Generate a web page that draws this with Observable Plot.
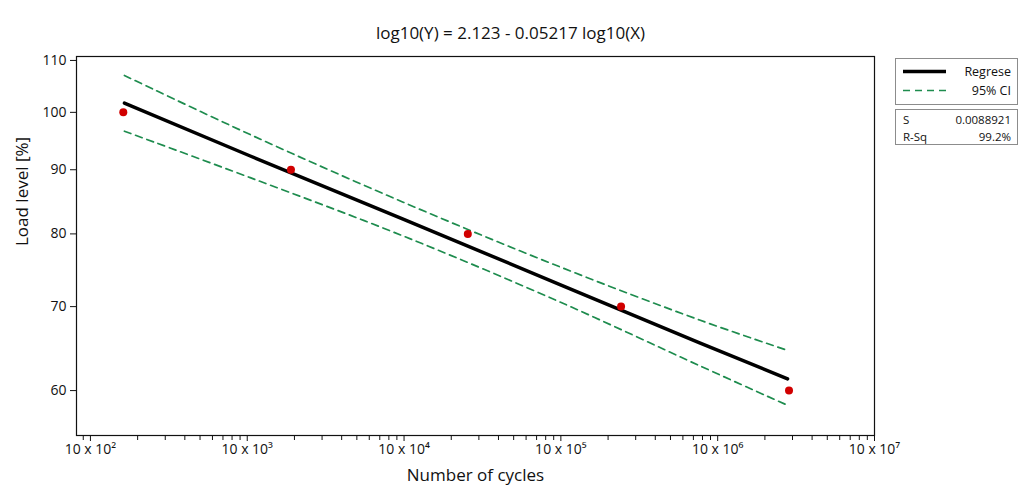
<!DOCTYPE html>
<html>
<head>
<meta charset="utf-8">
<script src="https://cdn.jsdelivr.net/npm/d3@7"></script>
<script src="https://cdn.jsdelivr.net/npm/@observablehq/plot@0.6"></script>
<style>
  html, body { margin: 0; padding: 0; background: #fff; }
  #wrap { position: relative; width: 1024px; height: 489px; font-family: "Open Sans", "Noto Sans", sans-serif; }
  .box { position: absolute; border: 1px solid #8c8c8c; background: #fff; box-sizing: border-box; color: #111; }
  .row { position: absolute; left: 0; right: 0; height: 15px; line-height: 15px; overflow: visible; }
  .row span { display: inline-block; height: 15px; line-height: 15px; }
  .row .l { position: absolute; left: 7px; }
  .row .r { position: absolute; right: 6px; }
  .row svg { position: absolute; left: 7px; top: 0; }
</style>
</head>
<body>
<div id="wrap"></div>
<script>
// Fitted regression line
const fitX = [164.7, 1045, 9860, 98600, 767000, 2790000];
const fitY = [101.7, 92.3, 82.2, 72.9, 65.5, 61.3];
// 95% confidence interval bounds
const upperY = [107.0, 96.0, 84.8, 75.3, 68.3, 64.6];
const lowerY = [96.6, 88.7, 79.7, 70.6, 62.8, 58.4];
// Observations
const obsX = [162, 1900, 25500, 242000, 2850000];
const obsY = [100, 90, 80, 70, 60];
// Axis ticks
const xMajor = [1e2, 1e3, 1e4, 1e5, 1e6, 1e7];
const xMajorLabels = ["10 x 10²", "10 x 10³", "10 x 10⁴", "10 x 10⁵", "10 x 10⁶", "10 x 10⁷"];
const yTicks = [60, 70, 80, 90, 100, 110];
const titleText = "log10(Y) = 2.123 - 0.05217 log10(X)";
const legendItems = ["Regrese", "95% CI"];
const statNames = ["S", "R-Sq"];
const statValues = ["0.0088921", "99.2%"];

const xDomain = [81.5, 1e7];
const yDomain = [55.25, 110.8];

const fit = fitX.map((x, i) => ({x, y: fitY[i]}));
const upper = fitX.map((x, i) => ({x, y: upperY[i]}));
const lower = fitX.map((x, i) => ({x, y: lowerY[i]}));
const obs = obsX.map((x, i) => ({x, y: obsY[i]}));

const xMinor = d3.scaleLog().domain(xDomain).ticks().filter(t => !xMajor.includes(t));

const green = "#1e8c4e";

const chart = Plot.plot({
  width: 1024,
  height: 489,
  marginLeft: 76,
  marginRight: 150,
  marginTop: 56,
  marginBottom: 54,
  style: {fontFamily: '"Open Sans", "Noto Sans", sans-serif', background: "#fff", color: "#111"},
  x: {type: "log", domain: xDomain},
  y: {type: "log", domain: yDomain},
  marks: [
    Plot.frame({stroke: "#111", strokeWidth: 1.2}),
    Plot.axisX(xMinor, {tickSize: 5, tickFormat: () => "", strokeWidth: 1, label: null}),
    Plot.axisX(xMajor, {tickSize: 6, tickPadding: 3, fontSize: 14, tickFormat: (d) => xMajorLabels[xMajor.indexOf(d)], label: null}),
    Plot.axisY(yTicks, {tickSize: 6, tickPadding: 4, fontSize: 14, tickFormat: d => String(d), label: null}),
    Plot.line(upper, {x: "x", y: "y", stroke: green, strokeWidth: 1.7, strokeDasharray: "7,5", curve: "catmull-rom"}),
    Plot.line(lower, {x: "x", y: "y", stroke: green, strokeWidth: 1.7, strokeDasharray: "7,5", curve: "catmull-rom"}),
    Plot.line(fit, {x: "x", y: "y", stroke: "#000", strokeWidth: 3.5}),
    Plot.dot(obs, {x: "x", y: "y", r: 4, fill: "#d10000", stroke: "none"}),
    Plot.text([titleText], {frameAnchor: "top", dx: 35, dy: -30, fontSize: 17, fill: "#111"}),
    Plot.text(["Number of cycles"], {frameAnchor: "bottom", dy: 45, fontSize: 17, fill: "#111"}),
    Plot.text(["Load level [%]"], {frameAnchor: "left", dx: -54, rotate: -90, fontSize: 17, fill: "#111"})
  ]
});

const wrap = document.getElementById("wrap");
wrap.appendChild(chart);

// Legend boxes
const box1 = document.createElement("div");
box1.className = "box";
Object.assign(box1.style, {left: "895px", top: "58px", width: "123px", height: "47px", fontSize: "12.5px"});
const rowsY = [5, 24];
legendItems.forEach((name, i) => {
  const row = document.createElement("div");
  row.className = "row";
  row.style.top = rowsY[i] + "px";
  const dash = i === 0 ? "" : 'stroke-dasharray="7,5"';
  const col = i === 0 ? "#000" : green;
  const sw = i === 0 ? 3.5 : 1.7;
  row.innerHTML = `<svg width="44" height="15"><line x1="0" x2="43" y1="7.5" y2="7.5" stroke="${col}" stroke-width="${sw}" ${dash}/></svg><span class="r">${name}</span>`;
  box1.appendChild(row);
});
wrap.appendChild(box1);

const box2 = document.createElement("div");
box2.className = "box";
Object.assign(box2.style, {left: "895px", top: "109px", width: "123px", height: "36px", fontSize: "11.5px"});
statNames.forEach((name, i) => {
  const row = document.createElement("div");
  row.className = "row";
  row.style.top = (2 + i * 16.5) + "px";
  row.innerHTML = `<span class="l">${name}</span><span class="r">${statValues[i]}</span>`;
  box2.appendChild(row);
});
wrap.appendChild(box2);
</script>
</body>
</html>
